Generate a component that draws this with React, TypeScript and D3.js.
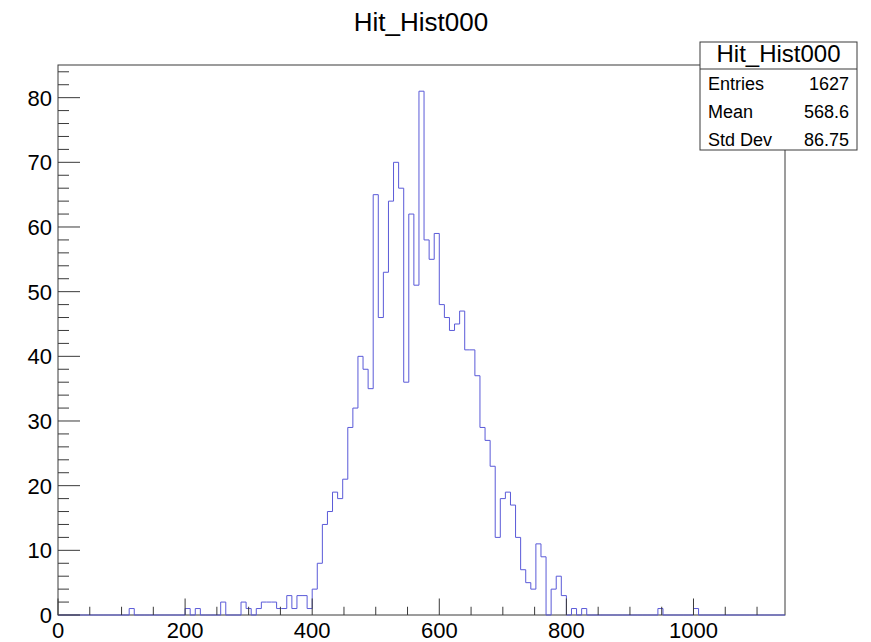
import React from 'react';
import * as d3 from 'd3';

// histogram binning (ROOT style, 143 bins of width 8)
const xMin = 0;
const xMax = 1144;
const binWidth = 8;

// non-empty bins: lower edge and content
const binStarts = [
  112, 200, 216, 256, 288, 296, 312, 320, 328, 336, 344, 352, 360, 368, 376, 384, 392,
  400, 408, 416, 424, 432, 440, 448, 456, 464, 472, 480, 488,
  496, 504, 512, 520, 528, 536, 544, 552, 560, 568, 576, 584, 592,
  600, 608, 616, 624, 632, 640, 648, 656, 664, 672, 680, 688,
  696, 704, 712, 720, 728, 736, 744, 752, 760, 776, 784, 792, 808, 824,
  944, 1000,
];
const binCounts = [
  1, 1, 1, 2, 2, 1, 1, 2, 2, 2, 1, 1, 3, 1, 3, 3, 1,
  4, 8, 14, 16, 19, 18, 21, 29, 32, 40, 38, 35,
  65, 46, 53, 64, 70, 66, 36, 62, 51, 81, 58, 55, 59,
  48, 46, 44, 45, 47, 41, 41, 37, 29, 27, 23, 12,
  18, 19, 17, 12, 7, 5, 4, 11, 9, 4, 6, 3, 1, 1,
  1, 1,
];

const histTitle = 'Hit_Hist000';
const statLabels = ['Entries', 'Mean', 'Std Dev'];
const statValues = ['1627', '568.6', '86.75'];

const xTickLabels = [0, 200, 400, 600, 800, 1000];
const yTickLabels = [0, 10, 20, 30, 40, 50, 60, 70, 80];

const W = 871;
const H = 642;
const font = '"Liberation Sans", Arial, Helvetica, sans-serif';
const axisColor = '#3a3a3a';

export default function App() {
  const frame = { left: 58, right: 785, top: 65, bottom: 615 };

  const x = d3.scaleLinear().domain([xMin, xMax]).range([frame.left, frame.right]);
  const yMax = d3.max(binCounts) * 1.05;
  const y = d3.scaleLinear().domain([0, yMax]).range([frame.bottom, frame.top]);

  // full bin contents
  const nBins = Math.round((xMax - xMin) / binWidth);
  const contents = new Array(nBins).fill(0);
  binStarts.forEach((s, i) => {
    contents[Math.round((s - xMin) / binWidth)] = binCounts[i];
  });

  const pts = [[xMin, 0]];
  contents.forEach((c, i) => {
    const lo = xMin + i * binWidth;
    pts.push([lo, c]);
    pts.push([lo + binWidth, c]);
  });
  pts.push([xMax, 0]);

  const line = d3.line()
    .x(d => x(d[0]))
    .y(d => y(d[1]));

  const xTicks = d3.range(xMin, xMax + 0.1, 50);
  const yTicks = d3.range(0, yMax, 2);

  const xMajorLen = 16.5;
  const yMajorLen = 22;

  return (
    <svg width={W} height={H} style={{ position: 'absolute', left: 0, top: 0, background: '#fff' }}
      fontFamily={font}>
      <rect x={0} y={0} width={W} height={H} fill="#fff" />

      {/* title */}
      <text x={421} y={31} fontSize={26} textAnchor="middle" fill="#000">{histTitle}</text>

      {/* frame */}
      <rect x={frame.left} y={frame.top} width={frame.right - frame.left}
        height={frame.bottom - frame.top} fill="none" stroke={axisColor} strokeWidth={1} />

      {/* histogram */}
      <path d={line(pts)} fill="none" stroke="#5a5ad8" strokeWidth={1} />

      {/* x axis ticks */}
      {xTicks.map(t => {
        const major = t % 200 === 0;
        return (
          <line key={'xt' + t} x1={x(t)} x2={x(t)} y1={frame.bottom}
            y2={frame.bottom - (major ? xMajorLen : xMajorLen / 2)} stroke={axisColor} strokeWidth={1} />
        );
      })}
      {xTickLabels.map(t => (
        <text key={'xl' + t} x={x(t)} y={638} fontSize={22} textAnchor="middle" fill="#000">{t}</text>
      ))}

      {/* y axis ticks */}
      {yTicks.map(t => {
        const major = t % 10 === 0;
        return (
          <line key={'yt' + t} x1={frame.left} x2={frame.left + (major ? yMajorLen : yMajorLen / 2)}
            y1={y(t)} y2={y(t)} stroke={axisColor} strokeWidth={1} />
        );
      })}
      {yTickLabels.map(t => (
        <text key={'yl' + t} x={52} y={y(t) + 8} fontSize={22} textAnchor="end" fill="#000">{t}</text>
      ))}

      {/* stats box */}
      <g>
        <rect x={700} y={42} width={157} height={108} fill="#fff" stroke={axisColor} strokeWidth={1} />
        <line x1={700} x2={857} y1={69} y2={69} stroke={axisColor} strokeWidth={1} />
        <text x={778.5} y={62} fontSize={24} textAnchor="middle" fill="#000">{histTitle}</text>
        {statLabels.map((s, i) => (
          <g key={s}>
            <text x={708} y={90 + i * 28} fontSize={18} fill="#000">{s}</text>
            <text x={849} y={90 + i * 28} fontSize={18} textAnchor="end" fill="#000">{statValues[i]}</text>
          </g>
        ))}
      </g>
    </svg>
  );
}
